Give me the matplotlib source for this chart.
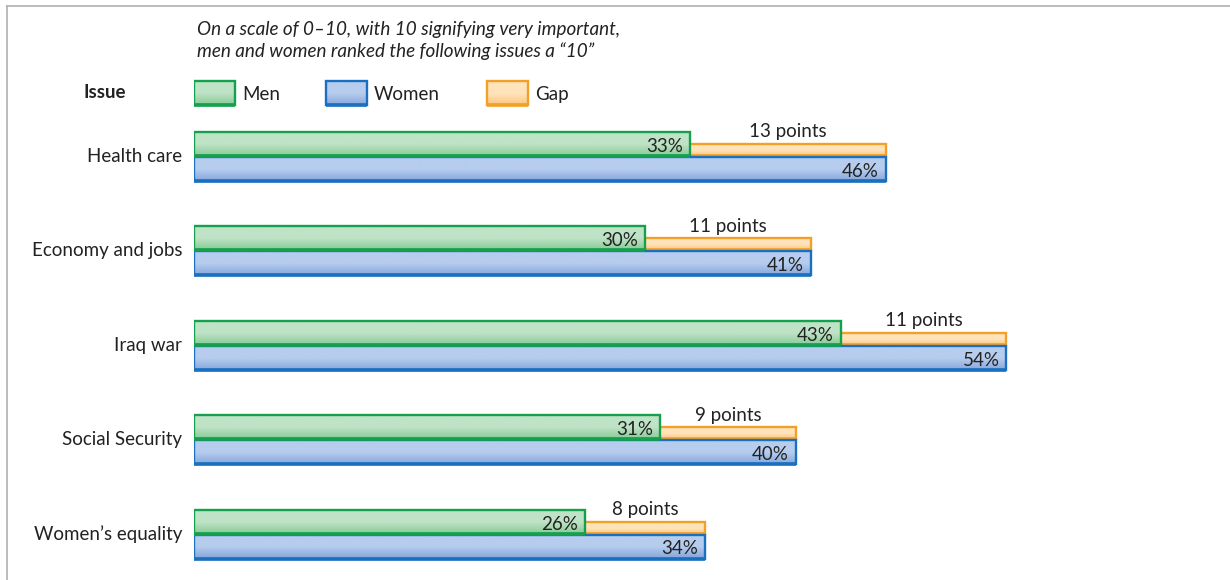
import numpy as np
import matplotlib.pyplot as plt
from matplotlib.colors import LinearSegmentedColormap
from matplotlib.lines import Line2D

plt.rcParams['font.family'] = ['Lato', 'DejaVu Sans']

issues = ["Health care", "Economy and jobs", "Iraq war", "Social Security", "Women\u2019s equality"]
men = [33, 30, 43, 31, 26]
women = [46, 41, 54, 40, 34]
gap = [w - m for w, m in zip(women, men)]

title_lines = ["On a scale of 0\u201310, with 10 signifying very important,",
               "men and women ranked the following issues a \u201c10\u201d"]

# colours: (top light, bottom darker, edge)
green = ("#bfe3c6", "#86cb95", "#14a04c")
blue = ("#b7cdee", "#86a8dc", "#1a6fc0")
orange = ("#ffe4bb", "#fcc67f", "#f2a028")

W, H = 1230, 580
fig = plt.figure(figsize=(W / 100, H / 100), dpi=100)

px_per_pct = 15.04
x0 = 194
row_px = 94.5
row0 = 156
fs = 13.5
tc = "#222222"

ax = fig.add_axes([x0 / W, 0, 1 - x0 / W, 1])
ax.set_xlim(0, (W - x0) / px_per_pct)
ax.set_ylim((H - row0) / row_px, -row0 / row_px)
ax.axis("off")


def grad_bar(y, left, width, height, cols, z=2):
    light, dark, edge = cols
    cmap = LinearSegmentedColormap.from_list("g", [light, light, dark])
    bars = ax.barh(y, width, height=height, left=left, color=light,
                   linewidth=0, zorder=z)
    grad = np.linspace(0, 1, 50).reshape(-1, 1)
    im = ax.imshow(grad, cmap=cmap, aspect="auto", zorder=z + 0.1,
                   extent=[left, left + width, y + height / 2, y - height / 2],
                   interpolation="bicubic")
    im.set_clip_path(bars[0])
    ax.barh(y, width, height=height, left=left, fill=False,
            edgecolor=edge, linewidth=1.7, zorder=z + 0.2)
    # darker bottom stripe
    ax.plot([left, left + width], [y + height / 2, y + height / 2], color=edge,
            lw=2.6, zorder=z + 0.3, solid_capstyle="butt")


h_big = 24 / row_px
h_gap = 12 / row_px
off_men = -12.5 / row_px
off_women = 12.5 / row_px
off_gap = -6.5 / row_px
dy = 2.5 / row_px

for i, name in enumerate(issues):
    grad_bar(i + off_gap, 0, women[i], h_gap, orange, z=2)
    grad_bar(i + off_men, 0, men[i], h_big, green, z=3)
    grad_bar(i + off_women, 0, women[i], h_big, blue, z=3)
    ax.text(men[i] - 0.5, i + off_men + dy, f"{men[i]}%", ha="right",
            va="center", fontsize=fs, color=tc, zorder=5)
    ax.text(women[i] - 0.45, i + off_women + dy, f"{women[i]}%", ha="right",
            va="center", fontsize=fs, color=tc, zorder=5)
    ax.text((men[i] + women[i]) / 2, i - 27 / row_px + dy, f"{gap[i]} points",
            ha="center", va="center", fontsize=fs, color=tc, zorder=5)
    fig.text(182 / W, 1 - (row0 + i * row_px) / H, name, ha="right",
             va="center", fontsize=fs, color=tc)

# legend
fig.text(105 / W, 1 - 93 / H, "Issue", ha="center", va="center",
         fontsize=fs, fontweight="bold", color=tc)
leg = [(0, "Men", green), (132 / px_per_pct, "Women", blue), (293 / px_per_pct, "Gap", orange)]
ly = (93 - row0) / row_px
for lx, lab, cols in leg:
    grad_bar(ly, lx, 41 / px_per_pct, h_big, cols, z=3)
    ax.text(lx + 48 / px_per_pct, ly + dy * 0.6, lab, ha="left", va="center",
            fontsize=fs, color=tc)

# italic heading
for k, line in enumerate(title_lines):
    fig.text(197 / W, 1 - (30 + 21 * k) / H, line, ha="left", va="center",
             fontsize=13.6, style="italic", color=tc)

# grey frame lines
fig.add_artist(Line2D([7 / W, 1], [1 - 6 / H, 1 - 6 / H], color="#b0b0b0", lw=1.2))
fig.add_artist(Line2D([7 / W, 7 / W], [0, 1 - 6 / H], color="#b0b0b0", lw=1.2))

fig.savefig("out.png", dpi=100)
